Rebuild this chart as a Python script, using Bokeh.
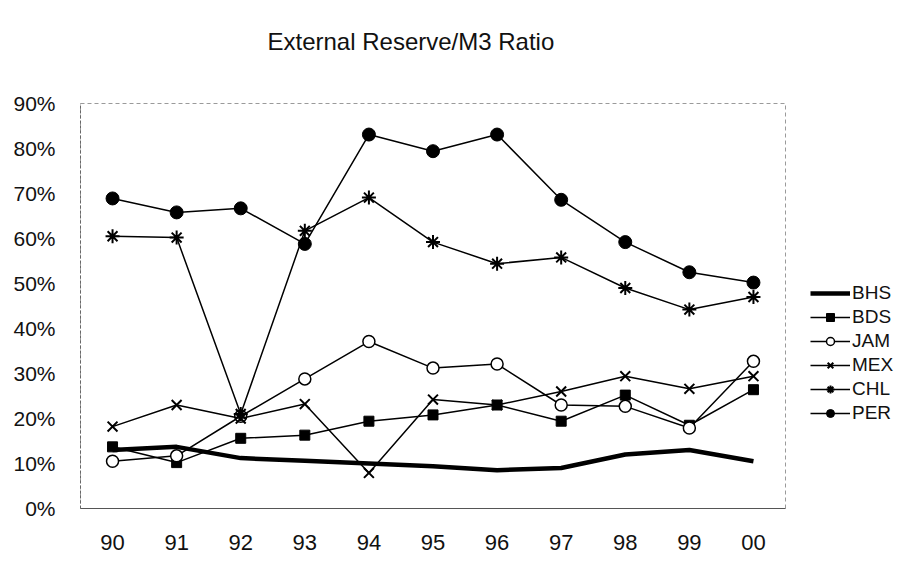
from bokeh.plotting import figure
from bokeh.models import (FactorRange, Range1d, FixedTicker, NumeralTickFormatter,
                          Legend, LegendItem, Title)
from bokeh.embed import file_html
from bokeh.resources import INLINE

# Years (two-digit labels) and external reserve / M3 ratios per country
years = ["90", "91", "92", "93", "94", "95", "96", "97", "98", "99", "00"]
bhs = [0.130, 0.137, 0.112, 0.106, 0.100, 0.094, 0.085, 0.090, 0.120, 0.130, 0.105]
bds = [0.137, 0.102, 0.156, 0.163, 0.194, 0.208, 0.230, 0.194, 0.252, 0.185, 0.264]
jam = [0.105, 0.117, 0.205, 0.288, 0.371, 0.312, 0.321, 0.230, 0.227, 0.179, 0.327]
mex = [0.182, 0.230, 0.200, 0.232, 0.079, 0.242, 0.230, 0.260, 0.294, 0.266, 0.294]
chl = [0.605, 0.602, 0.210, 0.617, 0.691, 0.592, 0.544, 0.558, 0.490, 0.442, 0.470]
per = [0.689, 0.658, 0.667, 0.588, 0.831, 0.794, 0.831, 0.686, 0.592, 0.525, 0.502]
y_ticks = [0.0, 0.1, 0.2, 0.3, 0.4, 0.5, 0.6, 0.7, 0.8, 0.9]

FONT = "Liberation Sans"

p = figure(width=924, height=561, output_backend="svg", toolbar_location=None,
           x_range=FactorRange(*years), y_range=Range1d(0, 0.9),
           frame_width=705, frame_height=405,
           min_border_left=80, min_border_right=0, min_border_top=103,
           min_border_bottom=53)
p.background_fill_color = "white"
p.border_fill_color = "white"
p.outline_line_color = "#9a9a9a"
p.outline_line_width = 1
p.outline_line_dash = "4 3"
p.xgrid.grid_line_color = None
p.ygrid.grid_line_color = None

# blank spacer row between the frame and the chart title
p.title = None
p.add_layout(Title(text=" ", text_font=FONT, text_font_size="42px",
                   standoff=0), "above")
p.add_layout(Title(text="External Reserve/M3 Ratio", align="left",
                   text_font=FONT, text_font_size="24px", text_font_style="normal",
                   text_color="#111111", standoff=0, offset=187), "above")

p.yaxis.ticker = FixedTicker(ticks=y_ticks)
p.yaxis.formatter = NumeralTickFormatter(format="0%")
for ax in (p.xaxis, p.yaxis):
    ax.major_tick_line_color = None
    ax.minor_tick_line_color = None
    ax.major_label_text_font = FONT
    ax.major_label_text_color = "#111111"
p.yaxis.major_label_text_font_size = "21px"
p.xaxis.major_label_text_font_size = "22px"
p.yaxis.axis_line_color = "#666666"
p.yaxis.axis_line_dash = "3 2"
p.xaxis.axis_line_color = "#555555"
p.yaxis.major_label_standoff = 19
p.xaxis.major_label_standoff = 20

items = []

r = p.line(years, bhs, line_color="black", line_width=4.5)
items.append(LegendItem(label="BHS", renderers=[r]))

r1 = p.line(years, bds, line_color="black", line_width=1.5)
r2 = p.scatter(years, bds, marker="square", size=10, fill_color="black",
               line_color="black")
items.append(LegendItem(label="BDS", renderers=[r1, r2]))

r1 = p.line(years, jam, line_color="black", line_width=1.5)
r2 = p.scatter(years, jam, marker="circle", size=12, fill_color="white",
               line_color="black", line_width=1.5)
items.append(LegendItem(label="JAM", renderers=[r1, r2]))

r1 = p.line(years, mex, line_color="black", line_width=1.5)
r2 = p.scatter(years, mex, marker="x", size=14, line_color="black", line_width=2)
items.append(LegendItem(label="MEX", renderers=[r1, r2]))

r1 = p.line(years, chl, line_color="black", line_width=1.5)
r2 = p.scatter(years, chl, marker="asterisk", size=14, line_color="black",
               line_width=2)
items.append(LegendItem(label="CHL", renderers=[r1, r2]))

r1 = p.line(years, per, line_color="black", line_width=1.5)
r2 = p.scatter(years, per, marker="circle", size=13, fill_color="black",
               line_color="black")
items.append(LegendItem(label="PER", renderers=[r1, r2]))

legend = Legend(items=items, location=(25, 84), orientation="vertical",
                background_fill_alpha=0, border_line_color=None,
                label_text_font=FONT, label_text_font_size="19px",
                label_text_color="#111111", glyph_width=40, glyph_height=20,
                label_height=20, label_standoff=2, spacing=2, padding=0,
                margin=0, label_text_line_height=1.0)
p.add_layout(legend, "right")

open("out.html", "w").write(file_html(p, INLINE))
